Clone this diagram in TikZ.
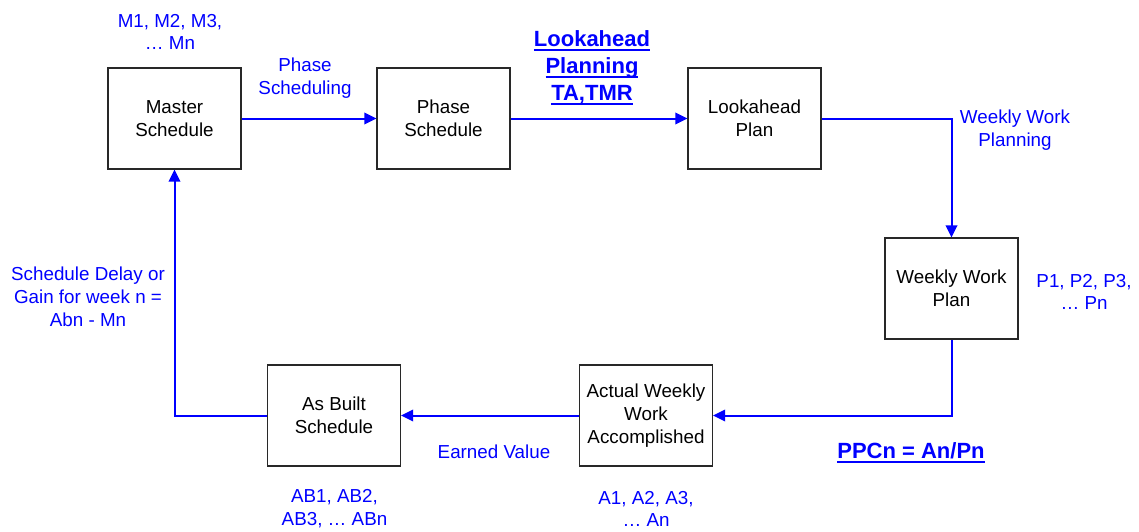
\documentclass[tikz,border=0pt]{standalone}
\usepackage{fontspec}
\setmainfont{Liberation Sans}
\usetikzlibrary{arrows.meta}
\definecolor{lineblue}{RGB}{0,0,255}
\definecolor{boxgray}{RGB}{40,40,40}
\newcommand{\ulx}[1]{\setbox0=\hbox{#1}\rlap{\rule[-4.3pt]{\wd0}{1.8pt}}\box0}
\tikzset{
  box/.style={draw=boxgray, line width=1.2pt, minimum width=133pt, minimum height=101pt,
    inner sep=0pt, align=center, font=\fontsize{18.8}{22.8}\selectfont},
  lbl/.style={text=lineblue, align=center, inner sep=0pt, font=\fontsize{18.8}{22.8}\selectfont},
  blbl/.style={text=lineblue, align=center, inner sep=0pt, font=\bfseries\fontsize{22}{27}\selectfont},
  flow/.style={draw=lineblue, line width=2pt, -{Triangle[length=12pt,width=11.5pt]}},
}
\begin{document}
\begin{tikzpicture}[x=1pt,y=-1pt]
\useasboundingbox (0,0) rectangle (1139,531);
\node[box] (ms) at (174.5,118.5) {Master\\Schedule};
\node[box] (ps) at (443.5,118.5) {Phase\\Schedule};
\node[box] (lp) at (754.5,118.5) {Lookahead\\Plan};
\node[box] (ww) at (951.5,288.5) {Weekly Work\\Plan};
\node[box] (aw) at (646,415.5) {Actual Weekly\\Work\\Accomplished};
\node[box] (ab) at (334,415.5) {As Built\\Schedule};

\draw[flow] (ms) -- (ps);
\draw[flow] (ps) -- (lp);
\draw[flow] (lp.east) -| (ww.north);
\draw[flow] (ww.south) |- (aw.east);
\draw[flow] (aw) -- (ab);
\draw[flow] (ab.west) -| (ms.south);

\node[lbl] (mlab) at (170,32) {M1, M2, M3,\\… Mn};
\node[lbl] (pslab) at (305,78) {Phase\\Scheduling};
\node[blbl] (lplab) at (592,68) {\ulx{Lookahead}\\\ulx{Planning}\\\ulx{TA,TMR}};
\node[lbl] (wwlab) at (1015,130) {Weekly Work\\Planning};
\node[lbl] (plab) at (1084,292) {P1, P2, P3,\\… Pn};
\node[blbl] (ppc) at (911,453) {\ulx{PPCn = An/Pn}};
\node[lbl] (alab) at (646,509) {A1, A2, A3,\\… An};
\node[lbl] (ev) at (494,452) {Earned Value};
\node[lbl] (ablab) at (334.5,509) {AB1, AB2,\\AB3, … ABn};
\node[lbl] (sdlab) at (88,297) {Schedule Delay or\\Gain for week n =\\Abn - Mn};
\end{tikzpicture}
\end{document}
